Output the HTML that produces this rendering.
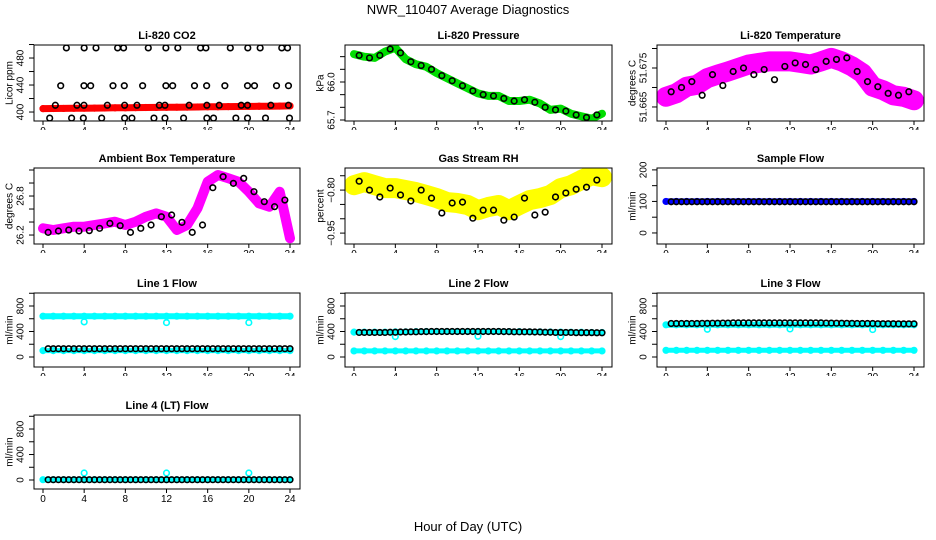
<!DOCTYPE html>
<html><head><meta charset="utf-8"><title>NWR_110407 Average Diagnostics</title>
<style>
html,body{margin:0;padding:0;background:#fff;}
svg{display:block;font-family:"Liberation Sans",Arial,sans-serif;}
</style></head>
<body>
<svg id="chart" width="936" height="540" viewBox="0 0 936 540" xmlns="http://www.w3.org/2000/svg">
<rect x="0" y="0" width="936" height="540" fill="#fff"/>
<text x="468" y="14" font-size="13" text-anchor="middle">NWR_110407  Average Diagnostics</text>
<text x="468" y="531" font-size="13" text-anchor="middle">Hour of Day (UTC)</text>
</svg>
<script>
// ---------- data ----------
const hours = [0,1,2,3,4,5,6,7,8,9,10,11,12,13,14,15,16,17,18,19,20,21,22,23,24];
const halfHours = [0.5,1.5,2.5,3.5,4.5,5.5,6.5,7.5,8.5,9.5,10.5,11.5,12.5,13.5,14.5,15.5,16.5,17.5,18.5,19.5,20.5,21.5,22.5,23.5];
const xTicks = [0,4,8,12,16,20,24];

const co2Red = [405,405.2,405.3,405.5,405.7,405.8,406,406.2,406.3,406.5,406.7,406.8,407,407.2,407.3,407.5,407.7,407.8,408,408.2,408.3,408.5,408.7,408.8,409];
const co2BlackX = [2.27,4.0,5.15,7.25,7.83,10.23,11.94,13.1,15.3,15.83,18.2,19.9,21.1,23.2,23.76,
  1.72,3.98,4.63,6.8,7.9,9.68,11.94,12.6,14.72,15.9,17.67,19.87,20.55,22.69,23.85,
  1.2,3.3,3.98,6.25,7.93,9.13,11.3,11.85,14.2,15.92,17.12,19.26,19.87,22.14,23.85,
  0.65,2.78,3.92,5.7,7.93,8.64,10.78,11.85,13.66,15.92,16.57,18.74,19.87,21.62,23.95];
const co2BlackY = [495,495,495,495,495,495,495,495,495,495,495,495,495,495,495,
  439,439,439,439,439,439,439,439,439,439,439,439,439,439,439,
  410,410,410,410,410,410,410,410,410,410,410,410,410,410,410,
  391,391,391,391,391,391,391,391,391,391,391,391,391,391,391];

const pressGreen = [66.22,66.20,66.19,66.24,66.27,66.18,66.14,66.12,66.07,66.03,65.99,65.95,65.91,65.89,65.89,65.85,65.85,65.86,65.83,65.78,65.79,65.75,65.73,65.71,65.75];
const pressBlack = [66.21,66.19,66.21,66.26,66.23,66.16,66.13,66.10,66.05,66.01,65.97,65.93,65.90,65.89,65.87,65.85,65.86,65.84,65.80,65.78,65.77,65.74,65.72,65.74];

const tempMagenta = [51.6676,51.6685,51.6702,51.6707,51.6724,51.6733,51.6741,51.6750,51.6759,51.6763,51.6767,51.6767,51.6767,51.6763,51.6759,51.6767,51.6776,51.6767,51.6754,51.6737,51.6702,51.6693,51.6680,51.6676,51.6667];
const tempBlack = [51.6689,51.6700,51.6715,51.6680,51.6733,51.6705,51.6741,51.6750,51.6733,51.6746,51.6720,51.6754,51.6763,51.6759,51.6746,51.6767,51.6772,51.6776,51.6741,51.6715,51.6702,51.6685,51.6680,51.6689];

const ambMagenta = [26.303,26.277,26.303,26.328,26.328,26.354,26.379,26.405,26.354,26.405,26.482,26.533,26.482,26.277,26.354,26.610,27.020,27.123,27.072,27.020,26.867,26.687,26.636,26.867,26.149];
const ambBlack = [26.241,26.262,26.277,26.262,26.267,26.303,26.379,26.344,26.241,26.303,26.354,26.482,26.508,26.395,26.241,26.354,26.928,27.097,26.995,27.072,26.867,26.713,26.636,26.738];

const rhYellow = [-0.783,-0.772,-0.783,-0.793,-0.793,-0.80,-0.807,-0.817,-0.828,-0.842,-0.845,-0.852,-0.87,-0.859,-0.852,-0.87,-0.852,-0.835,-0.828,-0.817,-0.793,-0.783,-0.765,-0.748,-0.755];
const rhBlack = [-0.769,-0.80,-0.824,-0.793,-0.817,-0.838,-0.80,-0.828,-0.880,-0.845,-0.842,-0.898,-0.870,-0.870,-0.905,-0.894,-0.828,-0.887,-0.877,-0.824,-0.810,-0.797,-0.790,-0.765];

const sampleBlue = [100,100,100,100,100,100,100,100,100,100,100,100,100,100,100,100,100,100,100,100,100,100,100,100,100];
const sampleBlack = [99,99,99,99,99,99,99,99,99,99,99,99,99,99,99,99,99,99,99,99,99,99,99,99];

const dipHours = [4,12,20];
const line1Top = [640,640,640,640,640,640,640,640,640,640,640,640,640,640,640,640,640,640,640,640,640,640,640,640,640];
const line1Bottom = [100,100,100,100,100,100,100,100,100,100,100,100,100,100,100,100,100,100,100,100,100,100,100,100,100];
const line1Dips = [550,540,540];
const line1Black = [130,130,130,130,130,130,130,130,130,130,130,130,130,130,130,130,130,130,130,130,130,130,130,130];

const line2Top = [390,390,390,390,395,395,398,400,400,400,400,400,400,400,400,398,398,395,395,392,390,388,388,385,385];
const line2Bottom = [95,95,95,95,95,95,95,95,95,95,95,95,95,95,95,95,95,95,95,95,95,95,95,95,95];
const line2Dips = [320,325,320];
const line2Black = [385,385,385,388,392,395,398,400,400,400,400,400,400,400,398,395,395,392,388,385,385,382,382,380];

const line3Top = [505,505,505,505,505,505,505,505,505,505,505,505,505,505,505,505,505,505,505,505,505,505,505,505,505];
const line3Bottom = [105,105,105,105,105,105,105,105,105,105,105,105,105,105,105,105,105,105,105,105,105,105,105,105,105];
const line3Dips = [435,440,430];
const line3Black = [525,525,525,528,530,532,535,535,535,535,535,535,535,535,535,532,530,528,525,525,522,522,520,520];

const line4Cyan = [5,5,5,5,5,5,5,5,5,5,5,5,5,5,5,5,5,5,5,5,5,5,5,5,5];
const line4Dips = [110,110,110];
const line4Black = [5,5,5,5,5,5,5,5,5,5,5,5,5,5,5,5,5,5,5,5,5,5,5,5];

// ---------- layout ----------
const NS = "http://www.w3.org/2000/svg";
const svg = document.getElementById('chart');
const cols = [[34,300],[345,612],[657,924]];
const rows = [[45,121],[168,244],[293,367],[415,489]];

function mk(tag, attrs, parent){
  const e = document.createElementNS(NS, tag);
  for (const k in attrs) e.setAttribute(k, attrs[k]);
  (parent||svg).appendChild(e);
  return e;
}

let clipId = 0;
function panel(cfg){
  const [L,R] = cols[cfg.col], [T,B] = rows[cfg.row];
  const g = mk('g', {});
  
  
  const xs = h => L + 9 + h * (R - L - 19) / 24;
  const ys = v => B - (v - cfg.ymin) / (cfg.ymax - cfg.ymin) * (B - T);
  // title
  const t = mk('text', {x:(L+R)/2, y:T-6, 'font-size':11, 'font-weight':'bold', 'text-anchor':'middle'}, g);
  t.textContent = cfg.title;
  
  
  // y label
  const yl = mk('text', {x:0, y:0, 'font-size':10, 'text-anchor':'middle', 'dominant-baseline':'central', transform:`translate(${L-24},${(T+B)/2}) rotate(-90)`}, g);
  yl.textContent = cfg.ylab;
  
  
  // y ticks
  cfg.yticks.forEach(v => {
    const y = ys(v);
    const tk = mk('line', {x1:L-5, x2:L, y1:y, y2:y, stroke:'#000', 'stroke-width':1}, g);
    
    
  });
  cfg.ylabels.forEach(v => {
    const y = ys(v);
    const tl = mk('text', {x:0, y:0, 'font-size':10, 'text-anchor':'middle', 'dominant-baseline':'central', transform:`translate(${L-13},${y}) rotate(-90)`}, g);
    tl.textContent = cfg.fmt ? cfg.fmt(v) : String(v);
    
    
  });
  // x ticks
  const cid = 'xc' + (clipId++);
  const cp = mk('clipPath', {id:cid}, g);
  mk('rect', {x:L-20, y:B, width:R-L+40, height: cfg.row === 3 ? 30 : 9}, cp);
  xTicks.forEach(h => {
    const x = xs(h);
    const tk = mk('line', {x1:x, x2:x, y1:B, y2:B+4, stroke:'#000', 'stroke-width':1}, g);
    
    
    const tl = mk('text', {x:x, y:B+13, 'font-size':10, 'text-anchor':'middle', 'clip-path':`url(#${cid})`}, g);
    tl.textContent = String(h);
    
    
  });
  // plot clip
  const pid = 'pc' + (clipId++);
  const pcp = mk('clipPath', {id:pid}, g);
  mk('rect', {x:L, y:T, width:R-L, height:B-T}, pcp);
  const plot = mk('g', {'clip-path':`url(#${pid})`}, g);
  cfg.draw(plot, xs, ys);
  // box
  const bx = mk('rect', {x:L, y:T, width:R-L, height:B-T, fill:'none', stroke:'#000', 'stroke-width':1}, g);
  
  
}

function band(p, xs, ys, xArr, vArr, color, w, name){
  const pts = xArr.map((h,i) => `${xs(h).toFixed(1)},${ys(vArr[i]).toFixed(1)}`).join(' ');
  const pl = mk('polyline', {points:pts, fill:'none', stroke:color, 'stroke-width':w, 'stroke-linejoin':'round', 'stroke-linecap':'round'}, p);
  
  
  points(p, xs, ys, xArr, vArr, color, name);
}
function points(p, xs, ys, xArr, vArr, color, name){
  xArr.forEach((h,i) => {
    const c = mk('circle', {cx:xs(h), cy:ys(vArr[i]), r:2.8, fill:'none', stroke:color, 'stroke-width':1.6}, p);
    
    
  });
}
// dense flow black points: each half-hour value drawn at the half-hour and at the hour before
function flowBlack(p, xs, ys, vArr, name){
  const xa = [], va = [];
  vArr.forEach((v,i) => { xa.push(halfHours[i]); va.push(v); xa.push(halfHours[i]+0.5); va.push(v); });
  points(p, xs, ys, xa, va, '#000', name);
}

const CY = '#00ffff';

panel({name:'panel-co2', col:0, row:0, title:'Li-820 CO2', ylab:'Licor ppm', ymin:386.7, ymax:499.3,
  yticks:[400,420,440,460,480,500], ylabels:[400,440,480],
  draw:(p,xs,ys)=>{ band(p,xs,ys,hours,co2Red,'#ff0000',7,'co2-red'); points(p,xs,ys,co2BlackX,co2BlackY,'#000','co2-black'); }});
panel({name:'panel-pressure', col:1, row:0, title:'Li-820 Pressure', ylab:'kPa', ymin:65.692, ymax:66.292,
  yticks:[65.7,65.8,65.9,66.0,66.1,66.2], ylabels:[65.7,66.0], fmt:v=>v.toFixed(1),
  draw:(p,xs,ys)=>{ band(p,xs,ys,hours,pressGreen,'#00dd00',8,'pressure-green'); points(p,xs,ys,halfHours,pressBlack,'#000','pressure-black'); }});
panel({name:'panel-temperature', col:2, row:0, title:'Li-820 Temperature', ylab:'degrees C', ymin:51.6614, ymax:51.6809,
  yticks:[51.665,51.670,51.675,51.680], ylabels:[51.665,51.675], fmt:v=>v.toFixed(3),
  draw:(p,xs,ys)=>{ band(p,xs,ys,hours,tempMagenta,'#ff00ff',20,'temp-magenta'); points(p,xs,ys,halfHours,tempBlack,'#000','temp-black'); }});
panel({name:'panel-ambient', col:0, row:1, title:'Ambient Box Temperature', ylab:'degrees C', ymin:26.062, ymax:27.231,
  yticks:[26.2,26.4,26.6,26.8,27.0,27.2], ylabels:[26.2,26.8], fmt:v=>v.toFixed(1),
  draw:(p,xs,ys)=>{ band(p,xs,ys,hours,ambMagenta,'#ff00ff',10,'ambient-magenta'); points(p,xs,ys,halfHours,ambBlack,'#000','ambient-black'); }});
panel({name:'panel-rh', col:1, row:1, title:'Gas Stream RH', ylab:'percent', ymin:-0.988, ymax:-0.723,
  yticks:[-0.95,-0.90,-0.85,-0.80,-0.75], ylabels:[-0.80,-0.95], fmt:v=>v.toFixed(2).replace('-','\u2212'),
  draw:(p,xs,ys)=>{ band(p,xs,ys,hours,rhYellow,'#ffff00',20,'rh-yellow'); points(p,xs,ys,halfHours,rhBlack,'#000','rh-black'); }});
panel({name:'panel-sample-flow', col:2, row:1, title:'Sample Flow', ylab:'ml/min', ymin:-35, ymax:206,
  yticks:[0,50,100,150,200], ylabels:[0,100,200],
  draw:(p,xs,ys)=>{ band(p,xs,ys,hours,sampleBlue,'#0000ff',6,'sample-blue'); flowBlack(p,xs,ys,sampleBlack,'sample-black'); }});
const flowTicks=[0,200,400,600,800,1000], flowLabels=[0,400,800];
panel({name:'panel-line1', col:0, row:2, title:'Line 1 Flow', ylab:'ml/min', ymin:-157, ymax:1004,
  yticks:flowTicks, ylabels:flowLabels,
  draw:(p,xs,ys)=>{ band(p,xs,ys,hours,line1Top,CY,6,'line1-top'); band(p,xs,ys,hours,line1Bottom,CY,5,'line1-bottom'); points(p,xs,ys,dipHours,line1Dips,CY,'line1-dip'); flowBlack(p,xs,ys,line1Black,'line1-black'); }});
panel({name:'panel-line2', col:1, row:2, title:'Line 2 Flow', ylab:'ml/min', ymin:-157, ymax:1004,
  yticks:flowTicks, ylabels:flowLabels,
  draw:(p,xs,ys)=>{ band(p,xs,ys,hours,line2Top,CY,5,'line2-top'); band(p,xs,ys,hours,line2Bottom,CY,5,'line2-bottom'); points(p,xs,ys,dipHours,line2Dips,CY,'line2-dip'); flowBlack(p,xs,ys,line2Black,'line2-black'); }});
panel({name:'panel-line3', col:2, row:2, title:'Line 3 Flow', ylab:'ml/min', ymin:-157, ymax:1004,
  yticks:flowTicks, ylabels:flowLabels,
  draw:(p,xs,ys)=>{ band(p,xs,ys,hours,line3Top,CY,6,'line3-top'); band(p,xs,ys,hours,line3Bottom,CY,5,'line3-bottom'); points(p,xs,ys,dipHours,line3Dips,CY,'line3-dip'); flowBlack(p,xs,ys,line3Black,'line3-black'); }});
panel({name:'panel-line4', col:0, row:3, title:'Line 4 (LT) Flow', ylab:'ml/min', ymin:-141, ymax:1020,
  yticks:flowTicks, ylabels:flowLabels,
  draw:(p,xs,ys)=>{ band(p,xs,ys,hours,line4Cyan,CY,5,'line4-cyan'); points(p,xs,ys,dipHours,line4Dips,CY,'line4-dip'); flowBlack(p,xs,ys,line4Black,'line4-black'); }});
</script>
</body></html>
